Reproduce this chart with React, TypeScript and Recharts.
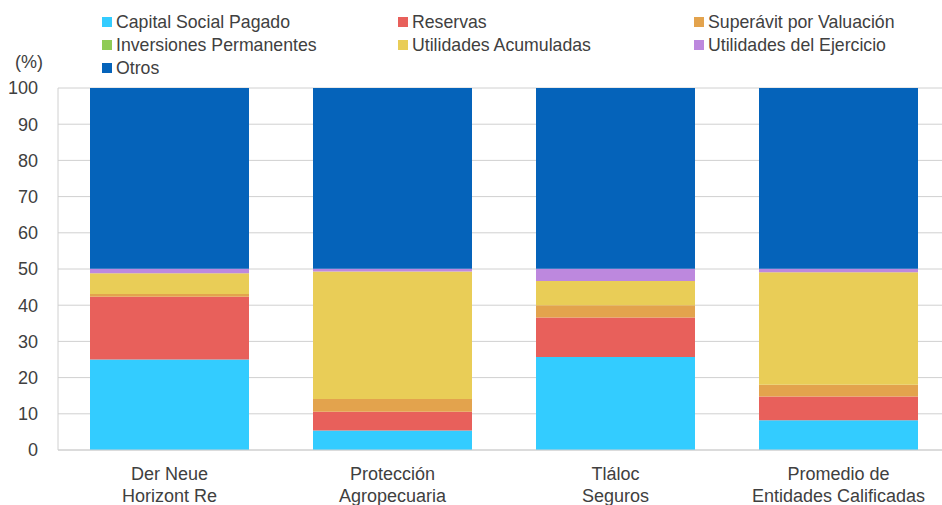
import React from "react";
import { BarChart, Bar, XAxis, YAxis, CartesianGrid } from "recharts";

const categories = [
  "Der Neue\nHorizont Re",
  "Protección\nAgropecuaria",
  "Tláloc\nSeguros",
  "Promedio de\nEntidades Calificadas",
];
const capitalSocial = [25.0, 5.4, 25.7, 8.2];
const reservas = [17.3, 5.2, 10.9, 6.6];
const superavit = [0.8, 3.5, 3.4, 3.2];
const inversiones = [0, 0, 0, 0];
const utilidadesAcum = [5.7, 35.2, 6.7, 31.1];
const utilidadesEjercicio = [1.3, 0.8, 3.4, 1.0];
const otros = [49.9, 49.9, 49.9, 49.9];
const yTicks = [0, 10, 20, 30, 40, 50, 60, 70, 80, 90, 100];

const series = [
  { key: "capital", name: "Capital Social Pagado", values: capitalSocial, color: "#33CCFF" },
  { key: "reservas", name: "Reservas", values: reservas, color: "#E8605B" },
  { key: "superavit", name: "Superávit por Valuación", values: superavit, color: "#E3A34D" },
  { key: "inversiones", name: "Inversiones Permanentes", values: inversiones, color: "#8FCB55" },
  { key: "utilAcum", name: "Utilidades Acumuladas", values: utilidadesAcum, color: "#E9CD57" },
  { key: "utilEj", name: "Utilidades del Ejercicio", values: utilidadesEjercicio, color: "#BD88DE" },
  { key: "otros", name: "Otros", values: otros, color: "#0563BA" },
];

const data = categories.map((c, i) => {
  const row: Record<string, any> = { name: c };
  series.forEach((s) => (row[s.key] = s.values[i]));
  return row;
});

const FONT = "'Liberation Sans', Arial, sans-serif";
const TEXT = "#404040";

const legendCols = [102, 398, 694];
const legendRows = [22, 45, 68];

const LegendBlock = () => (
  <div style={{ position: "absolute", left: 0, top: 0, width: 942, height: 80 }}>
    {series.map((s, i) => {
      const col = i % 3;
      const row = Math.floor(i / 3);
      return (
        <div
          key={s.key}
          style={{
            position: "absolute",
            left: legendCols[col],
            top: legendRows[row] - 11,
            height: 22,
            display: "flex",
            alignItems: "center",
            fontFamily: FONT,
            fontSize: 17.7,
            color: TEXT,
            whiteSpace: "nowrap",
          }}
        >
          <span style={{ display: "inline-block", width: 10, height: 10, background: s.color, marginRight: 4 }} />
          <span>{s.name}</span>
        </div>
      );
    })}
  </div>
);

const XTick = (props: any) => {
  const { x, y, payload } = props;
  const lines = String(payload.value).split("\n");
  return (
    <g transform={`translate(${x},${y})`}>
      {lines.map((l, i) => (
        <text
          key={i}
          x={0}
          y={22 + i * 22}
          textAnchor="middle"
          fill={TEXT}
          fontFamily={FONT}
          fontSize={18}
        >
          {l}
        </text>
      ))}
    </g>
  );
};

export default function App() {
  return (
    <div style={{ position: "absolute", left: 0, top: 0, width: 942, height: 505, overflow: "hidden", background: "#fff" }}>
      <BarChart
        width={960}
        height={505}
        data={data}
        margin={{ top: 88, right: 10, left: 0, bottom: 0 }}
        barCategoryGap={32}
      >
        <CartesianGrid vertical={false} stroke="#D0D0D0" />
        <XAxis
          dataKey="name"
          height={55}
          tickLine={false}
          axisLine={{ stroke: "#D0D0D0" }}
          tick={<XTick />}
          interval={0}
        />
        <YAxis
          width={58}
          domain={[0, 100]}
          ticks={yTicks}
          tickLine={false}
          tickSize={0}
          tickMargin={20}
          axisLine={{ stroke: "#D0D0D0" }}
          tick={{ fill: TEXT, fontFamily: FONT, fontSize: 18 }}
          interval={0}
        />
        {series.map((s) => (
          <Bar
            key={s.key}
            dataKey={s.key}
            name={s.name}
            stackId="a"
            fill={s.color}
            isAnimationActive={false}
          />
        ))}
      </BarChart>
      <LegendBlock />
      <div
        style={{
          position: "absolute",
          left: 15,
          top: 52,
          fontFamily: FONT,
          fontSize: 18,
          color: TEXT,
        }}
      >
        (%)
      </div>
    </div>
  );
}
